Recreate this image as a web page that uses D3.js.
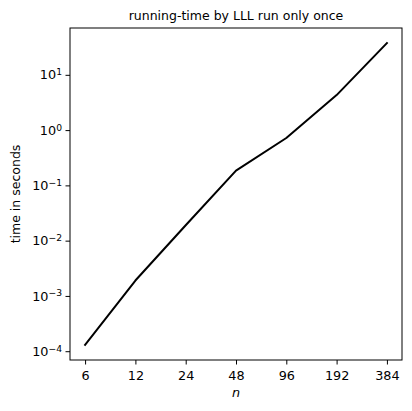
<!DOCTYPE html>
<html>
<head>
<meta charset="utf-8">
<script src="https://cdn.jsdelivr.net/npm/d3@7"></script>
<style>
  body { margin: 0; background: #fff; }
  svg { display: block; font-family: 'DejaVu Sans', sans-serif; }
</style>
</head>
<body>
<svg id="chart"></svg>
<script>
// problem size n and measured running time (seconds)
const sizes = ['6', '12', '24', '48', '96', '192', '384'];
const times = [1.3e-4, 1.9e-3, 0.019, 0.185, 0.72, 4.3, 37.5];
const yTickExps = [-4, -3, -2, -1, 0, 1];

const title = 'running-time by LLL run only once';
const xTitle = 'n';
const yTitle = 'time in seconds';

const width = 412, height = 411;
const margin = { top: 28, right: 10, bottom: 51, left: 70 };
const plotW = width - margin.left - margin.right;
const plotH = height - margin.top - margin.bottom;

const svg = d3.select('#chart')
  .attr('width', width)
  .attr('height', height);

// x: categories evenly spaced (log2 of n), 5% margin like matplotlib
const pad = (sizes.length - 1) * 0.05;
const x = d3.scaleLinear()
  .domain([-pad, sizes.length - 1 + pad])
  .range([0, plotW]);

// y: log scale with 5% margin in log space
const lo = Math.log10(d3.min(times)), hi = Math.log10(d3.max(times));
const lpad = (hi - lo) * 0.05;
const y = d3.scaleLog()
  .domain([Math.pow(10, lo - lpad), Math.pow(10, hi + lpad)])
  .range([plotH, 0]);

const g = svg.append('g')
  .attr('transform', 'translate(' + margin.left + ',' + margin.top + ')');

// line
const line = d3.line()
  .x(function(d, i) { return x(i); })
  .y(function(d) { return y(d); });

g.append('path')
  .datum(times)
  .attr('fill', 'none')
  .attr('stroke', '#000')
  .attr('stroke-width', 2)
  .attr('stroke-linejoin', 'round')
  .attr('stroke-linecap', 'square')
  .attr('d', line);

// x axis
const xAxis = d3.axisBottom(x)
  .tickValues(d3.range(sizes.length))
  .tickFormat(function(d) { return sizes[d]; })
  .tickSize(4.5)
  .tickSizeOuter(0)
  .tickPadding(6);
const gx = g.append('g')
  .attr('transform', 'translate(0,' + plotH + ')')
  .call(xAxis);
gx.select('.domain').remove();
gx.selectAll('.tick line').attr('stroke', '#000').attr('stroke-width', 1);
gx.selectAll('.tick text')
  .attr('fill', '#000')
  .attr('font-size', 12.8)
  .attr('font-family', 'DejaVu Sans');

// y axis
const yAxis = d3.axisLeft(y)
  .tickValues(yTickExps.map(function(e) { return Math.pow(10, e); }))
  .tickFormat('')
  .tickSize(4.5)
  .tickSizeOuter(0);
const gy = g.append('g').call(yAxis);
gy.select('.domain').remove();
gy.selectAll('.tick line').attr('stroke', '#000').attr('stroke-width', 1);
gy.selectAll('.tick text').remove();

gy.selectAll('.tick').each(function(d) {
  const e = Math.round(Math.log10(d));
  const t = d3.select(this).append('text')
    .attr('x', -8)
    .attr('dy', '0.32em')
    .attr('text-anchor', 'end')
    .attr('fill', '#000')
    .attr('font-size', 12.8)
    .attr('font-family', 'DejaVu Sans');
  t.append('tspan').text('10');
  t.append('tspan')
    .attr('dy', '-0.45em')
    .attr('font-size', 9.2)
    .text(String(e).replace('-', '\u2212'));
});

// frame
g.append('rect')
  .attr('width', plotW)
  .attr('height', plotH)
  .attr('fill', 'none')
  .attr('stroke', '#000')
  .attr('stroke-width', 1);

// titles
svg.append('text')
  .attr('x', margin.left + plotW / 2)
  .attr('y', 20)
  .attr('text-anchor', 'middle')
  .attr('font-size', 12.5)
  .attr('fill', '#000')
  .text(title);

svg.append('text')
  .attr('x', margin.left + plotW / 2)
  .attr('y', 397)
  .attr('text-anchor', 'middle')
  .attr('font-size', 12.8)
  .attr('font-style', 'italic')
  .attr('fill', '#000')
  .text(xTitle);

svg.append('text')
  .attr('transform', 'translate(20,' + (margin.top + plotH / 2) + ') rotate(-90)')
  .attr('text-anchor', 'middle')
  .attr('font-size', 12.5)
  .attr('fill', '#000')
  .text(yTitle);
</script>
</body>
</html>
